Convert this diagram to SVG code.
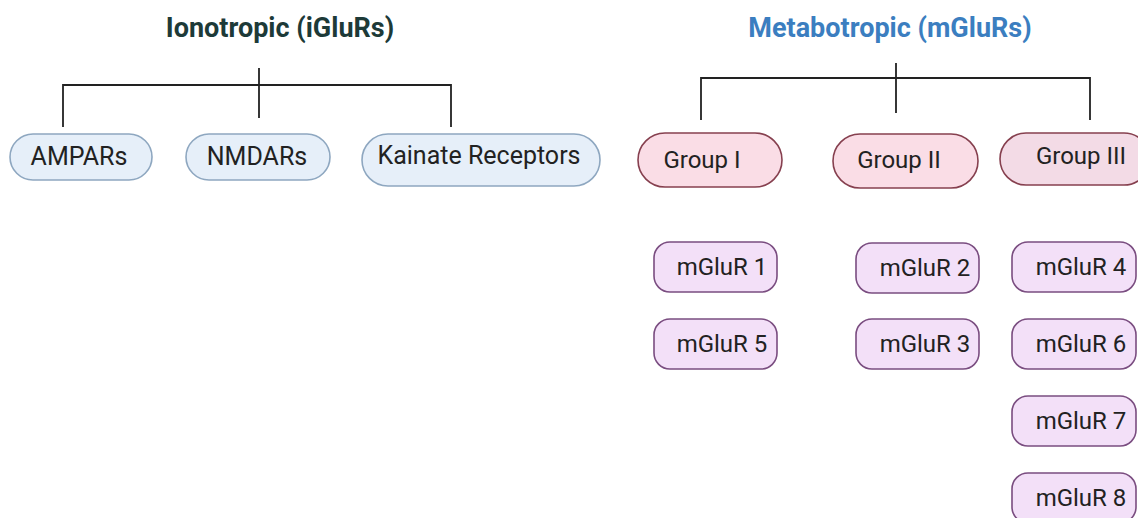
<svg xmlns="http://www.w3.org/2000/svg" width="1138" height="518" viewBox="0 0 1138 518">
<style>
.title{font-family:Roboto,"Liberation Sans",sans-serif;font-weight:bold;font-size:27px;text-anchor:middle}
.lbl{font-family:Roboto,"Liberation Sans",sans-serif;font-size:25px;fill:#222;text-anchor:middle}
.g{font-size:24px}
.m{font-size:24px}
.ion{fill:#e6eff9;stroke:#8ea7c0;stroke-width:1.6}
.grp{fill:#fadde6;stroke:#86404f;stroke-width:1.6}
.grp3{fill:#f3dbe6;stroke:#86404f;stroke-width:1.6}
.mg{fill:#f3e0f8;stroke:#7a4d80;stroke-width:1.6}
.ln{fill:none;stroke:#222;stroke-width:1.8}
</style>
<rect width="1138" height="518" fill="#ffffff"/>
<text class="title" x="280" y="37" fill="#1d3a38">Ionotropic (iGluRs)</text>
<text class="title" x="890" y="37" fill="#3b7ec0">Metabotropic (mGluRs)</text>
<g id="connectors">
<path class="ln" d="M259 68V118M63 127V85H451V127"/>
<path class="ln" d="M896 63V113M701 120V78H1090V120"/>
</g>
<g id="ampars"><rect class="ion" x="10" y="134" width="142" height="46" rx="23"/><text class="lbl" x="79" y="165">AMPARs</text></g>
<g id="nmdars"><rect class="ion" x="186" y="134" width="144" height="46" rx="23"/><text class="lbl" x="257" y="165">NMDARs</text></g>
<g id="kainate"><rect class="ion" x="362" y="134" width="238" height="52" rx="26"/><text class="lbl" x="479" y="164">Kainate Receptors</text></g>
<g id="group1"><rect class="grp" x="638" y="133" width="144" height="54" rx="27"/><text class="lbl g" x="702" y="168">Group I</text></g>
<g id="group2"><rect class="grp" x="833" y="134" width="145" height="54" rx="27"/><text class="lbl g" x="899" y="168">Group II</text></g>
<g id="group3"><rect class="grp3" x="1000" y="133" width="150" height="52" rx="26"/><text class="lbl g" x="1081" y="164">Group III</text></g>
<g id="mglur1"><rect class="mg" x="654" y="242" width="123" height="50" rx="16"/><text class="lbl m" x="722" y="275">mGluR 1</text></g>
<g id="mglur5"><rect class="mg" x="654" y="319" width="123" height="50" rx="16"/><text class="lbl m" x="722" y="352">mGluR 5</text></g>
<g id="mglur2"><rect class="mg" x="856" y="243" width="123" height="50" rx="16"/><text class="lbl m" x="925" y="276">mGluR 2</text></g>
<g id="mglur3"><rect class="mg" x="856" y="319" width="123" height="50" rx="16"/><text class="lbl m" x="925" y="352">mGluR 3</text></g>
<g id="mglur4"><rect class="mg" x="1012" y="242" width="124" height="50" rx="16"/><text class="lbl m" x="1081" y="275">mGluR 4</text></g>
<g id="mglur6"><rect class="mg" x="1012" y="319" width="124" height="50" rx="16"/><text class="lbl m" x="1081" y="352">mGluR 6</text></g>
<g id="mglur7"><rect class="mg" x="1012" y="396" width="124" height="50" rx="16"/><text class="lbl m" x="1081" y="429">mGluR 7</text></g>
<g id="mglur8"><rect class="mg" x="1012" y="473" width="124" height="50" rx="16"/><text class="lbl m" x="1081" y="506">mGluR 8</text></g>
</svg>
